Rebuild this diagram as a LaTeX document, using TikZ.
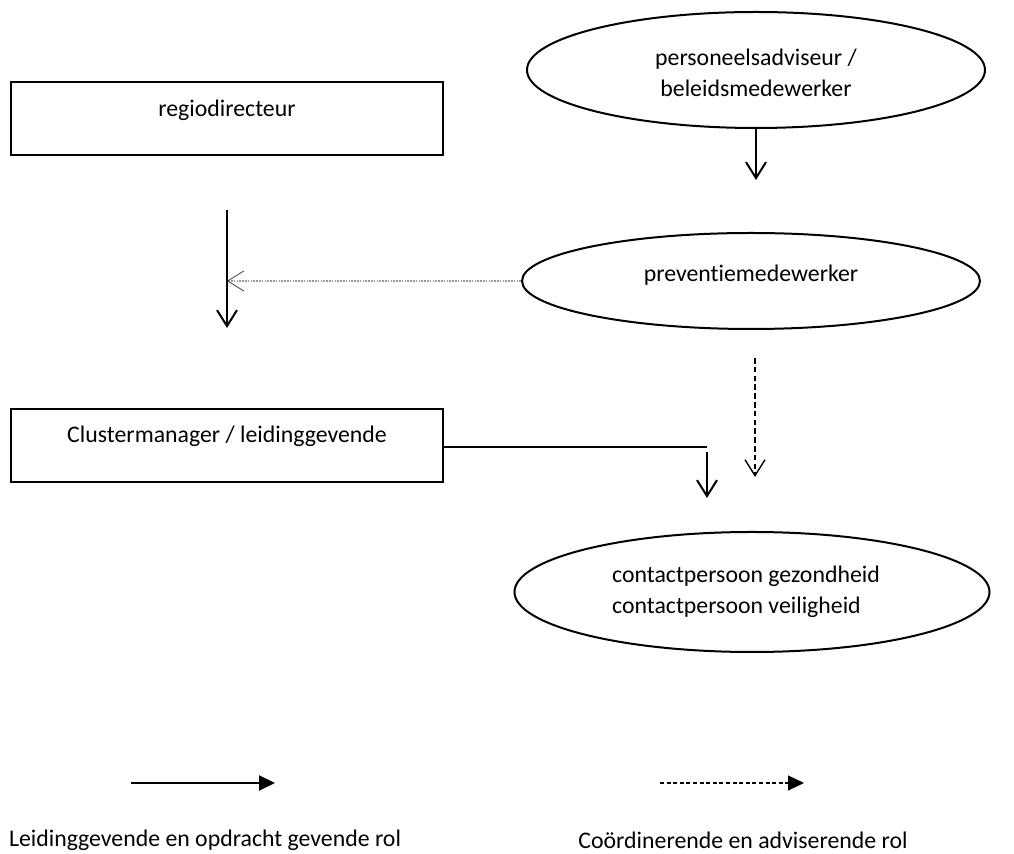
\documentclass[tikz,border=0pt]{standalone}
\usepackage{fontspec}
\setmainfont{Carlito}[Ligatures=NoCommon]
\usetikzlibrary{arrows.meta,shapes.geometric}

\begin{document}
\begin{tikzpicture}[x=0.5pt,y=-0.5pt,
		font=\fontsize{11.9}{15.5}\selectfont,
		box/.style={draw,line width=1pt,inner sep=0pt,minimum width=216pt,minimum height=36.5pt},
		ovaal/.style={draw,ellipse,line width=1pt,inner sep=0pt},
		lead/.style={line width=1pt,-{Straight Barb[length=8pt,width=10pt,line width=1pt]}},
		advies/.style={line width=0.7pt,dash pattern=on 2.8pt off 1.6pt,-{Straight Barb[length=8pt,width=10pt,line width=0.7pt]}},
		hint/.style={line width=0.8pt,color=black!40,dash pattern=on 0.8pt off 0.6pt,-{Straight Barb[length=8pt,width=10pt,line width=0.4pt,color=black!75]}},
		legtip/.style={-{Triangle[length=8pt,width=7.5pt]}}]
	%%%%% START %%%%%
	\useasboundingbox (0,0) rectangle (1014,854);
	
	% boxes
	\node[box,label={[name=regiotxt,yshift=4.5pt]center:regiodirecteur}] (regio) at (227,119) {};
	\node[box,label={[name=clustertxt,yshift=4.5pt]center:Clustermanager / leidinggevende}] (cluster) at (227,445.5) {};
	
	% ellipses
	\node[ovaal,minimum width=229pt,minimum height=58pt,label={[name=adviseurtxt,align=center,yshift=-1.5pt]center:personeelsadviseur /\\beleidsmedewerker}] (adviseur) at (756,70) {};
	\node[ovaal,minimum width=229pt,minimum height=48pt,label={[name=preventietxt,yshift=3pt]center:preventiemedewerker}] (preventie) at (751,281) {};
	\node[ovaal,minimum width=237.5pt,minimum height=60pt,label={[name=contacttxt,align=left,xshift=-3pt]center:contactpersoon gezondheid\\contactpersoon veiligheid}] (contact) at (752,592) {};
	
	% free ends
	\coordinate (a1) at (756,180);
	\coordinate (l1) at (227,210);
	\coordinate (l2) at (227,328);
	\coordinate (k1) at (707,447);
	\coordinate (k2) at (707,452);
	\coordinate (k3) at (707,498);
	\coordinate (d1) at (755,358);
	\coordinate (d2) at (755,477);
	
	\draw[lead] (adviseur.south) -- (a1);
	\draw[lead] (l1) -- (l2);
	\draw[hint] (preventie.west) -- (preventie.west -| l1);
	\draw[line width=1pt] (cluster.east |- k1) -- (k1);
	\draw[lead] (k2) -- (k3);
	\draw[advies] (d1) -- (d2);
	
	% legend
	\coordinate (s1) at (131,783);
	\coordinate (s2) at (275,783);
	\coordinate (s3) at (660,783);
	\coordinate (s4) at (804,783);
	\draw[line width=1pt,legtip] (s1) -- (s2);
	\draw[line width=0.6pt,dash pattern=on 2pt off 1.3pt,legtip] (s3) -- (s4);
	\node (legleid) at (205,840) {Leidinggevende en opdracht gevende rol};
	\node (legadv) at (743,840) {Coördinerende en adviserende rol};
	
	%%%%% END %%%%%
\end{tikzpicture}
\end{document}
